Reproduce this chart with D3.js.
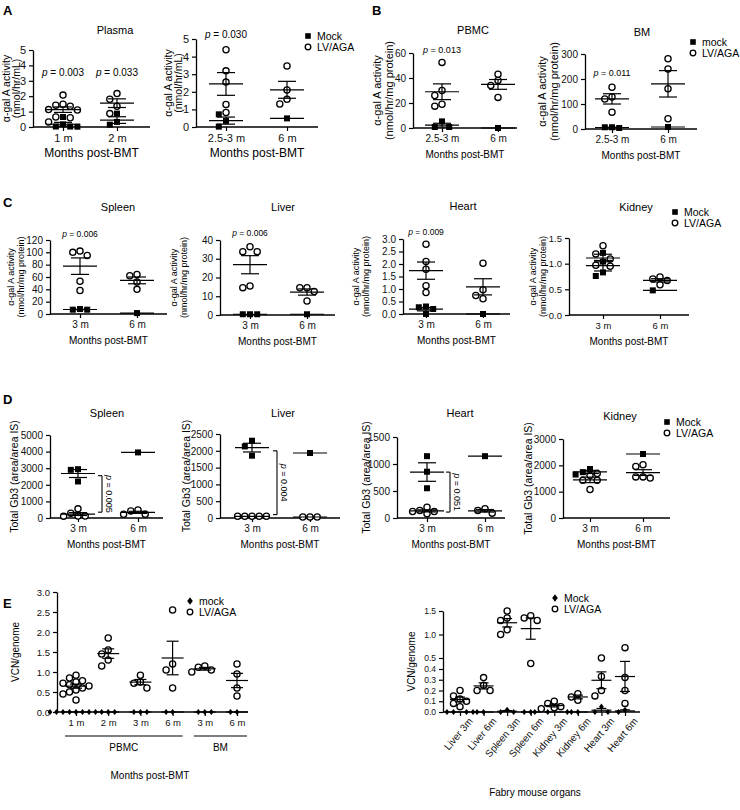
<!DOCTYPE html>
<html>
<head>
<meta charset="utf-8">
<script src="https://cdn.jsdelivr.net/npm/d3@7"></script>
<style>body{margin:0;background:#fff}</style>
</head>
<body>
<div id="fig"></div>
<script>
// ---- data ----
const monthsA1 = ["1 m", "2 m"];
const monthsA2 = ["2.5-3 m", "6 m"];
const months = ["3 m", "6 m"];

// A: plasma, nmol/hr/mL
const plasmaMock = [[0.65, 0.17, 0.03, 0.02, 0.03], [0.87, 0.33, 0.15]];
const plasmaLV = [[2.07, 1.48, 1.35, 1.41, 1.13, 1.10, 0.65, 0.60, 0.33], [2.17, 1.80, 1.35, 0.87]];
const plasma2Mock = [[0.72, 0.35, 0.02], [0.49]];
const plasma2LV = [[4.39, 3.19, 2.55, 1.28, 0.82], [3.47, 2.10, 1.57, 1.31]];

// B: nmol/hr/mg protein
const pbmcMock = [[5.3, 0.8, 0.8], [0]];
const pbmcLV = [[52.5, 30, 26, 19, 17.5], [43, 38, 34, 24.5]];
const bmMock = [[7, 4, 7], [8]];
const bmLV = [[167, 128, 120, 67], [281, 240, 161, 41]];

// C: organ activity
const cSpleenMock = [[8, 7, 7], [1.5]];
const cSpleenLV = [[100, 95, 102, 53, 38], [62, 64, 52, 40]];
const cLiverMock = [[0.4, 0.4, 0.4], [0.4]];
const cLiverLV = [[36.4, 33.8, 33.8, 15.5, 14.6], [14.5, 14.5, 12.5, 7.5]];
const cHeartMock = [[0.30, 0.27, 0.20, 0.0], [0]];
const cHeartLV = [[2.79, 2.10, 1.79, 0.86, 1.13], [2.03, 0.97, 0.74, 0.61]];
const cKidneyMock = [[1.21, 0.76, 0.83, 1.04], [0.48]];
const cKidneyLV = [[1.35, 1.19, 0.97, 0.95, 1.09], [0.70, 0.74, 0.59, 0.67]];

// D: total Gb3
const dSpleenMock = [[2900, 2940, 2200], [3950]];
const dSpleenLV = [[550, 120, 110, 120, 290], [420, 230, 230, 480]];
const dLiverMock = [[2300, 2130, 1855], [1935]];
const dLiverLV = [[50, 50, 50, 50, 50], [30, 30, 30]];
const dHeartMock = [[1145, 857, 551], [1145]];
const dHeartLV = [[200, 120, 80, 120, 140], [170, 90, 140]];
const dKidneyMock = [[1650, 1860, 1740], [2430]];
const dKidneyLV = [[1430, 1430, 1080, 1690, 1610], [2025, 1960, 1560, 1520, 1560]];

// E: VCN/genome
const eLeftCats = ["1 m", "2 m", "3 m", "6 m", "3 m", "6 m"];
const eLeftGroups = [["PBMC", 0, 3], ["BM", 4, 5]];
const eLeftMock = [[0, 0, 0, 0, 0, 0, 0, 0], [0, 0, 0], [0, 0, 0], [0, 0], [0, 0, 0], [0, 0]];
const eLeftLV = [[0.92, 0.85, 0.78, 0.75, 0.72, 0.68, 0.65, 0.60, 0.55, 0.50, 0.45, 0.30],
                 [1.85, 1.55, 1.45, 1.30, 1.15], [0.92, 0.75, 0.72, 0.60],
                 [2.55, 1.20, 1.05, 0.60], [1.15, 1.12, 1.05, 1.00], [1.20, 0.95, 0.60, 0.40]];
const eRightCats = ["Liver 3m", "Liver 6m", "Spleen 3m", "Spleen 6m", "Kidney 3m", "Kidney 6m", "Heart 3m", "Heart 6m"];
const eRightTicks = [0, 0.1, 0.2, 0.3, 0.4, 0.5, 1.0, 1.5];
const eRightMock = [[0, 0, 0, 0], [0, 0], [0.02, 0, 0], [0, 0], [0, 0, 0], [0, 0], [0.05, 0, 0], [0.02, 0]];
const eRightLV = [[0.20, 0.15, 0.12, 0.10, 0.08, 0.05], [0.32, 0.25, 0.20, 0.20], [1.50, 1.35, 1.30, 1.10, 1.00],
                  [1.40, 1.35, 1.30, 0.45], [0.10, 0.08, 0.05, 0.04, 0.03], [0.17, 0.14, 0.11],
                  [0.50, 0.33, 0.20, 0.15], [0.72, 0.32, 0.20, 0.08]];

const FONT = "'Liberation Sans', Arial, Helvetica, sans-serif";
const actLab = ["α-gal A activity", "(nmol/hr/mg protein)"];
const gb3Lab = ["Total Gb3 (area/area IS)"];

const svg = d3.select('#fig').append('svg')
  .attr('width', 740).attr('height', 810)
  .style('font-family', FONT)
  .style('background', '#fff');

// simple beeswarm so overlapping dots sit side by side
function swarm(pts, y, r, step) {
  const placed = [];
  const order = pts.map((d, i) => i).sort((a, b) => pts[b].v - pts[a].v);
  order.forEach(i => {
    const py = y(pts[i].v);
    for (let k = 0; k < 30; k++) {
      const off = k === 0 ? 0 : (k % 2 ? -1 : 1) * Math.ceil(k / 2) * step;
      const ok = placed.every(p => Math.abs(p.x - off) >= step - 0.1 || Math.abs(p.y - py) >= 2 * r);
      if (ok) { placed.push({x: off, y: py}); pts[i].dx = off; break; }
    }
  });
}

function hline(g, x1, x2, y1, y2, w) {
  g.append('line').attr('x1', x1).attr('x2', x2).attr('y1', y1).attr('y2', y2)
    .attr('stroke', '#000').attr('stroke-width', w || 1.2);
}

function meanSem(g, vals, cx, y, hw, cw) {
  if (!vals || !vals.length) return;
  const m = d3.mean(vals);
  const s = vals.length > 1 ? d3.deviation(vals) / Math.sqrt(vals.length) : 0;
  hline(g, cx - hw, cx + hw, y(m), y(m));
  if (s > 0) {
    hline(g, cx, cx, y(Math.max(0, m - s)), y(m + s));
    hline(g, cx - cw, cx + cw, y(m + s), y(m + s));
    if (m - s > 0) hline(g, cx - cw, cx + cw, y(m - s), y(m - s));
  }
}

function marker(g, shape, x, y, r) {
  if (shape === 'square') {
    g.append('rect').attr('x', x - r).attr('y', y - r).attr('width', 2 * r).attr('height', 2 * r).attr('fill', '#000');
  } else if (shape === 'diamond') {
    g.append('path').attr('d', `M${x},${y - r * 1.3}L${x + r},${y}L${x},${y + r * 1.3}L${x - r},${y}Z`).attr('fill', '#000');
  } else {
    g.append('circle').attr('cx', x).attr('cy', y).attr('r', r)
      .attr('fill', '#fff').attr('stroke', '#000').attr('stroke-width', 1.3);
  }
}

function ptext(g, x, y, txt, fs, rot) {
  const t = g.append('text').attr('x', x).attr('y', y).attr('font-size', fs)
    .attr('text-anchor', 'middle');
  if (rot) t.attr('transform', `rotate(${rot},${x},${y})`);
  t.append('tspan').attr('font-style', 'italic').text('p');
  t.append('tspan').text(' = ' + txt);
}

function drawPanel(p) {
  const g = svg.append('g');
  const fs = p.fs || 10;
  const y = p.yScale || d3.scaleLinear().domain([0, p.max]).range([p.bot, p.top]);
  const x = d3.scalePoint().domain(d3.range(p.cats.length)).range([p.c0, p.c1]);

  const ya = g.append('g').attr('transform', `translate(${p.ax},0)`)
    .call(d3.axisLeft(y).tickValues(p.ticks).tickSize(4).tickSizeOuter(0)
      .tickFormat(p.fmt || d3.format('d')));
  const xa = g.append('g').attr('transform', `translate(0,${p.bot})`)
    .call(d3.axisBottom(x).tickSize(4).tickFormat(i => p.cats[i]));
  xa.select('.domain').remove();
  hline(g, p.ax, p.x1, p.bot, p.bot, 1.3);
  [ya, xa].forEach(a => {
    a.attr('font-family', FONT).attr('font-size', p.tfs || 10);
    a.selectAll('text').attr('fill', '#111');
    a.selectAll('line').attr('stroke', '#000').attr('stroke-width', 1.2);
    a.select('.domain').attr('stroke', '#000').attr('stroke-width', 1.3);
  });
  if (p.rotLabels) {
    xa.selectAll('text').attr('font-size', 10).attr('text-anchor', 'end')
      .attr('transform', 'translate(3,1) rotate(-50)').attr('dy', '0.6em');
  }

  const r = p.r || 3.1;
  p.cats.forEach((c, i) => {
    const pts = [];
    (p.mock[i] || []).forEach(v => pts.push({v, t: 'm'}));
    (p.lv[i] || []).forEach(v => pts.push({v, t: 'l'}));
    swarm(pts, y, r, p.step || 7.2);
    const cx = x(i);
    pts.forEach(d => marker(g, d.t === 'm' ? (p.shape || 'square') : 'circle', cx + d.dx, y(d.v), d.t === 'm' ? (p.mr || 3) : r));
    meanSem(g, p.mock[i], cx, y, p.hw || 17, p.cw || 9);
    meanSem(g, p.lv[i], cx, y, p.hw || 17, p.cw || 9);
  });

  // titles and labels
  if (p.title) g.append('text').attr('x', p.titleX).attr('y', p.titleY).attr('text-anchor', 'middle')
    .attr('font-size', p.tifs || 11).text(p.title);
  if (p.xlab) g.append('text').attr('x', p.xlabX || (p.ax + p.x1) / 2).attr('y', p.xlabY || p.bot + 30)
    .attr('text-anchor', 'middle').attr('font-size', fs).text(p.xlab);
  const my = (p.top + p.bot) / 2;
  const yfs = p.yfs || fs;
  const gap = p.ygap || yfs + 1;
  p.ylab.forEach((line, k) => {
    const lx = p.ylabX + k * gap + yfs * 0.36;
    g.append('text').attr('x', lx).attr('y', my).attr('text-anchor', 'middle').attr('font-size', yfs)
      .attr('transform', `rotate(-90,${lx},${my})`).text(line);
  });
  (p.pvals || []).forEach((pv, i) => {
    if (pv) ptext(g, x(i), p.pY, pv, p.pfs || 9);
  });
  if (p.bracket) {
    const b = p.bracket;
    const y0 = y(b.from), y1 = y(b.to);
    hline(g, b.x, b.x, y0, y1, 1.1);
    hline(g, b.x - 4, b.x, y0, y0, 1.1);
    hline(g, b.x - 4, b.x, y1, y1, 1.1);
    ptext(g, b.x + 4, (y0 + y1) / 2, b.p, p.pfs || 9, 90);
  }
  if (p.legend) {
    const L = p.legend;
    marker(g, p.shape || 'square', L.x, L.y, 2.8);
    marker(g, 'circle', L.x, L.y + 11, 2.8);
    g.append('text').attr('x', L.x + 9).attr('y', L.y + 4).attr('font-size', 10.5).text(L.mock);
    g.append('text').attr('x', L.x + 9).attr('y', L.y + 15).attr('font-size', 10.5).text('LV/AGA');
  }
  return {g, x, y};
}

// panel letters
[["A", 3, 15], ["B", 372, 15], ["C", 3, 207], ["D", 3, 404], ["E", 3, 608]].forEach(([t, x, y]) =>
  svg.append('text').attr('x', x).attr('y', y).attr('font-size', 13).attr('font-weight', 'bold').text(t));

// ---- A ----
drawPanel({cats: monthsA1, mock: plasmaMock, lv: plasmaLV, max: 5, ticks: d3.range(0, 6),
  fs: 12, tfs: 11, yfs: 10.5, ygap: 10, pfs: 10, tifs: 11,
  ax: 33, x1: 150, c0: 63, c1: 117, top: 50, bot: 127, title: "Plasma", titleX: 115, titleY: 34,
  xlab: "Months post-BMT", ylab: ["α-gal A activity", "(nmol/hr/mL)"], ylabX: 6.5,
  pvals: ["0.003", "0.033"], pY: 76});
drawPanel({cats: monthsA2, mock: plasma2Mock, lv: plasma2LV, max: 5, ticks: d3.range(0, 6),
  fs: 12, tfs: 11, yfs: 10.5, ygap: 10, pfs: 10,
  ax: 196, x1: 318, c0: 226, c1: 287, top: 39, bot: 127,
  xlab: "Months post-BMT", ylab: ["α-gal A activity", "(nmol/hr/mL)"], ylabX: 168,
  pvals: ["0.030", null], pY: 38, legend: {x: 308, y: 36, mock: "Mock"}});

// ---- B ----
drawPanel({cats: monthsA2, mock: pbmcMock, lv: pbmcLV, max: 60, ticks: [0, 20, 40, 60], yfs: 11,
  ax: 413, x1: 517, c0: 442, c1: 498, top: 53, bot: 128, title: "PBMC", titleX: 473, titleY: 34,
  xlab: "Months post-BMT", ylab: actLab, ylabX: 377, pvals: ["0.013", null], pY: 53});
drawPanel({cats: monthsA2, mock: bmMock, lv: bmLV, max: 300, ticks: [0, 100, 200, 300], yfs: 11,
  ax: 585, x1: 697, c0: 612, c1: 668, top: 54, bot: 129, title: "BM", titleX: 642, titleY: 36,
  xlab: "Months post-BMT", ylab: actLab, ylabX: 542, pvals: ["0.011", null], pY: 76,
  legend: {x: 693, y: 42, mock: "mock"}});

// ---- C ----
drawPanel({cats: months, mock: cSpleenMock, lv: cSpleenLV, max: 120, ticks: d3.range(0, 121, 20),
  yfs: 9, pfs: 8.5,
  ax: 50, x1: 167, c0: 80, c1: 137, top: 240, bot: 314, title: "Spleen", titleX: 118, titleY: 211,
  xlab: "Months post-BMT", ylab: actLab, ylabX: 11, pvals: ["0.006", null], pY: 237});
drawPanel({cats: months, mock: cLiverMock, lv: cLiverLV, max: 40, ticks: d3.range(0, 41, 10),
  yfs: 9, pfs: 8.5,
  ax: 220, x1: 335, c0: 250, c1: 307, top: 240, bot: 315, title: "Liver", titleX: 283, titleY: 211,
  xlab: "Months post-BMT", ylab: actLab, ylabX: 174, pvals: ["0.006", null], pY: 236});
drawPanel({cats: months, mock: cHeartMock, lv: cHeartLV, max: 3, ticks: d3.range(0, 3.01, 0.5),
  yfs: 9, pfs: 8.5,
  fmt: d3.format('.1f'), ax: 403, x1: 510, c0: 426, c1: 483, top: 239, bot: 314,
  title: "Heart", titleX: 463, titleY: 210, xlab: "Months post-BMT", ylab: actLab, ylabX: 356,
  pvals: ["0.009", null], pY: 235});
drawPanel({cats: months, mock: cKidneyMock, lv: cKidneyLV, max: 1.5, ticks: [0, 0.5, 1, 1.5],
  yfs: 9, tfs: 9.5,
  fmt: d3.format('.1f'), ax: 569, x1: 689, c0: 603, c1: 660, top: 238, bot: 315,
  title: "Kidney", titleX: 636, titleY: 211, xlab: "Months post-BMT", ylab: actLab, ylabX: 533,
  legend: {x: 675, y: 212, mock: "Mock"}});

// ---- D ----
drawPanel({cats: months, mock: dSpleenMock, lv: dSpleenLV, max: 5000, ticks: d3.range(0, 5001, 1000),
  yfs: 10.5,
  ax: 50, x1: 163, c0: 78, c1: 138, top: 435, bot: 518, title: "Spleen", titleX: 107, titleY: 417,
  xlab: "Months post-BMT", ylab: gb3Lab, ylabX: 14, bracket: {x: 102, from: 2550, to: 350, p: "0.005"}});
drawPanel({cats: months, mock: dLiverMock, lv: dLiverLV, max: 2500, ticks: d3.range(0, 2501, 500),
  yfs: 10.5,
  ax: 220, x1: 340, c0: 252, c1: 310, top: 434, bot: 518, title: "Liver", titleX: 283, titleY: 417,
  xlab: "Months post-BMT", ylab: gb3Lab, ylabX: 186, bracket: {x: 277, from: 2000, to: 100, p: "0.004"}});
drawPanel({cats: months, mock: dHeartMock, lv: dHeartLV, max: 1500, ticks: [0, 500, 1000, 1500],
  yfs: 10.5,
  ax: 397, x1: 505, c0: 427, c1: 485, top: 437, bot: 518, title: "Heart", titleX: 460, titleY: 417,
  xlab: "Months post-BMT", ylab: gb3Lab, ylabX: 366, bracket: {x: 450, from: 850, to: 110, p: "0.051"}});
drawPanel({cats: months, mock: dKidneyMock, lv: dKidneyLV, max: 3000, ticks: [0, 1000, 2000, 3000],
  yfs: 10.5,
  ax: 563, x1: 670, c0: 590, c1: 643, top: 439, bot: 518, title: "Kidney", titleX: 620, titleY: 420,
  xlab: "Months post-BMT", ylab: gb3Lab, ylabX: 528, legend: {x: 667, y: 422, mock: "Mock"}});

// ---- E ----
const eL = drawPanel({cats: eLeftCats, mock: eLeftMock, lv: eLeftLV, max: 3, ticks: d3.range(0, 3.01, 0.5),
  tfs: 9.5, yfs: 10,
  fmt: d3.format('.1f'), ax: 57, x1: 248, c0: 76, c1: 237, top: 592, bot: 712, shape: 'diamond', mr: 2.4,
  hw: 11, cw: 6, step: 6.5, xlab: "Months post-BMT", xlabX: 150, xlabY: 779,
  ylab: ["VCN/genome"], ylabX: 15, legend: {x: 190, y: 601, mock: "mock"}});
eLeftGroups.forEach(([lab, a, b]) => {
  const xa = eL.x(a) - 11, xb = eL.x(b) + 10;
  hline(eL.g, xa, xb, 736, 736, 1.1);
  eL.g.append('text').attr('x', (xa + xb) / 2).attr('y', 751).attr('text-anchor', 'middle')
    .attr('font-size', 10).text(lab);
});

// broken axis: 0-0.4 on the lower part, 0.5-1.5 on a compressed upper part
const eRy = d3.scaleLinear().domain([0, 0.4, 0.5, 1.5]).range([712, 669, 658, 611]);
drawPanel({cats: eRightCats, mock: eRightMock, lv: eRightLV, yScale: eRy,
  ticks: eRightTicks, fmt: d3.format('.1f'), tfs: 8.5, yfs: 10,
  ax: 443, x1: 640, c0: 460, c1: 625, top: 611, bot: 712, shape: 'diamond', mr: 2.4,
  hw: 10, cw: 5, step: 6.5, rotLabels: true, xlab: "Fabry mouse organs", xlabX: 535, xlabY: 796,
  ylab: ["VCN/genome"], ylabX: 411, legend: {x: 555, y: 598, mock: "Mock"}});
</script>
</body>
</html>
